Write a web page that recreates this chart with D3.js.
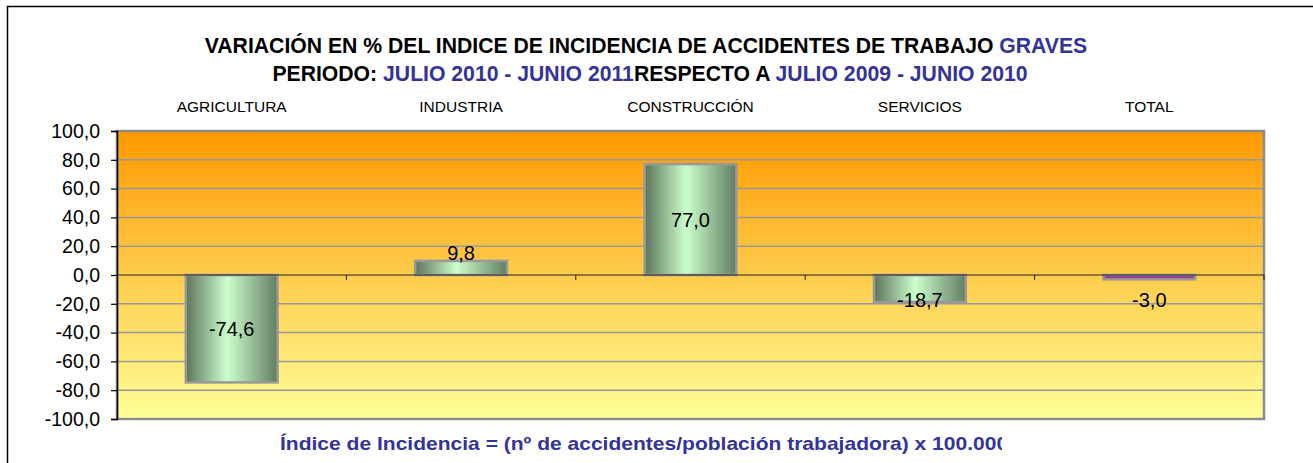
<!DOCTYPE html>
<html><head><meta charset="utf-8">
<script src="https://cdn.jsdelivr.net/npm/d3@7"></script>
<style>body{margin:0;background:#fff}svg{display:block}text{font-family:"Liberation Sans",Arial,sans-serif}</style>
</head><body>
<svg id="c" width="1313" height="463"></svg>
<script>
const categories = ["AGRICULTURA","INDUSTRIA","CONSTRUCCIÓN","SERVICIOS","TOTAL"];
const values = [-74.6, 9.8, 77.0, -18.7, -3.0];
const yTicks = [-100,-80,-60,-40,-20,0,20,40,60,80,100];
const titleLine1 = [["VARIACIÓN EN % DEL INDICE DE INCIDENCIA DE ACCIDENTES DE TRABAJO","#000"],[" GRAVES","#333399"]];
const titleLine2 = [["PERIODO: ","#000"],["JULIO 2010 - JUNIO 2011","#333399"],["RESPECTO A ","#000"],["JULIO 2009 - JUNIO 2010","#333399"]];
const footer = "Índice de Incidencia = (nº de accidentes/población trabajadora) x 100.000";

const fmt = v => d3.format(".1f")(v).replace(".",",").replace("\u2212","-");
const svg = d3.select("#c");
const L=117, R=1264, T=131, B=419;
const x = d3.scaleBand().domain(categories).range([L,R]).paddingInner(0).paddingOuter(0);
const y = d3.scaleLinear().domain([-100,100]).range([B,T]);
const defs = svg.append("defs");
const bg = defs.append("linearGradient").attr("id","bg").attr("x1",0).attr("y1",0).attr("x2",0).attr("y2",1);
bg.append("stop").attr("offset","0%").attr("stop-color","#ff9900");
bg.append("stop").attr("offset","100%").attr("stop-color","#ffff99");
const gg = defs.append("linearGradient").attr("id","gb").attr("x1",0).attr("y1",0).attr("x2",1).attr("y2",0);
gg.append("stop").attr("offset","0%").attr("stop-color","#5c745c");
gg.append("stop").attr("offset","45%").attr("stop-color","#ccffcc");
gg.append("stop").attr("offset","100%").attr("stop-color","#627e62");
defs.append("clipPath").attr("id","fc").append("rect").attr("x",0).attr("y",420).attr("width",1002).attr("height",43);

// outer frame
svg.append("rect").attr("x",7.5).attr("y",6.5).attr("width",1400).attr("height",600).attr("fill","none").attr("stroke","#000").attr("stroke-width",1.5);

// title
const t1 = svg.append("text").attr("x",646).attr("y",53).attr("text-anchor","middle").attr("font-weight","bold").attr("font-size",21.2);
titleLine1.forEach(d=>t1.append("tspan").attr("fill",d[1]).text(d[0]));
const t2 = svg.append("text").attr("x",650).attr("y",81).attr("text-anchor","middle").attr("font-weight","bold").attr("font-size",21.2);
titleLine2.forEach(d=>t2.append("tspan").attr("fill",d[1]).text(d[0]));

// category labels on top
svg.append("g").selectAll("text").data(categories).join("text")
  .attr("x",d=>x(d)+x.bandwidth()/2).attr("y",112).attr("text-anchor","middle").attr("font-size",15.5).text(d=>d);

// plot bg
svg.append("rect").attr("x",L).attr("y",T).attr("width",R-L).attr("height",B-T).attr("fill","url(#bg)");
// grid
svg.append("g").selectAll("line").data(yTicks.filter(v=>v!==0&&v!==100&&v!==-100)).join("line")
  .attr("x1",L).attr("x2",R).attr("y1",d=>y(d)).attr("y2",d=>y(d)).attr("stroke","#999").attr("stroke-width",1.5);
// border
svg.append("rect").attr("x",L).attr("y",T).attr("width",R-L).attr("height",B-T).attr("fill","none").attr("stroke","#8c8c8c").attr("stroke-width",2.5);

// bars
const barW = x.bandwidth()*0.4;
svg.append("g").selectAll("rect").data(values).join("rect")
  .attr("x",(d,i)=>x(categories[i])+(x.bandwidth()-barW)/2)
  .attr("y",d=>y(Math.max(0,d))).attr("width",barW)
  .attr("height",d=>Math.abs(y(d)-y(0)))
  .attr("fill",(d,i)=>i===4?"#993399":"url(#gb)")
  .attr("stroke","#999").attr("stroke-width",2.5);

// zero line & category ticks
svg.append("line").attr("x1",L).attr("x2",R).attr("y1",y(0)).attr("y2",y(0)).attr("stroke","#222").attr("stroke-width",1.2);
svg.append("g").selectAll("line").data(categories.slice(1).map(c=>x(c)).concat([R])).join("line")
  .attr("x1",d=>d).attr("x2",d=>d).attr("y1",y(0)).attr("y2",y(0)+5).attr("stroke","#222").attr("stroke-width",1);

// y axis
const ya = svg.append("g").attr("transform",`translate(${L},0)`)
  .call(d3.axisLeft(y).tickValues(yTicks).tickSize(6).tickPadding(11).tickFormat(fmt));
ya.select(".domain").attr("stroke","#000").attr("stroke-width",1.5);
ya.selectAll(".tick line").attr("stroke","#000").attr("stroke-width",1.2);
ya.selectAll("text").attr("font-size",19.5).attr("font-family","Liberation Sans, Arial, sans-serif").attr("fill","#000");

// value labels
svg.append("g").selectAll("text").data(values).join("text")
  .attr("x",(d,i)=>x(categories[i])+x.bandwidth()/2)
  .attr("y",d=>{const off=Math.max(Math.abs(y(d/2)-y(0)), d>0?22:25); return (d>0? y(0)-off : y(0)+off)+7;})
  .attr("text-anchor","middle").attr("font-size",20).attr("fill","#000")
  .text(fmt);

// footer
const ft = svg.append("g").attr("clip-path","url(#fc)").append("text").attr("x",0).attr("y",0)
  .attr("font-weight","bold").attr("font-size",19).attr("fill","#333399").text(footer);
const node = ft.node();
const wPart = node.getSubStringLength(0, footer.length-1);
const sx = (997-280)/wPart;
ft.attr("transform",`translate(280,450) scale(${sx},1)`);
</script>
</body></html>
